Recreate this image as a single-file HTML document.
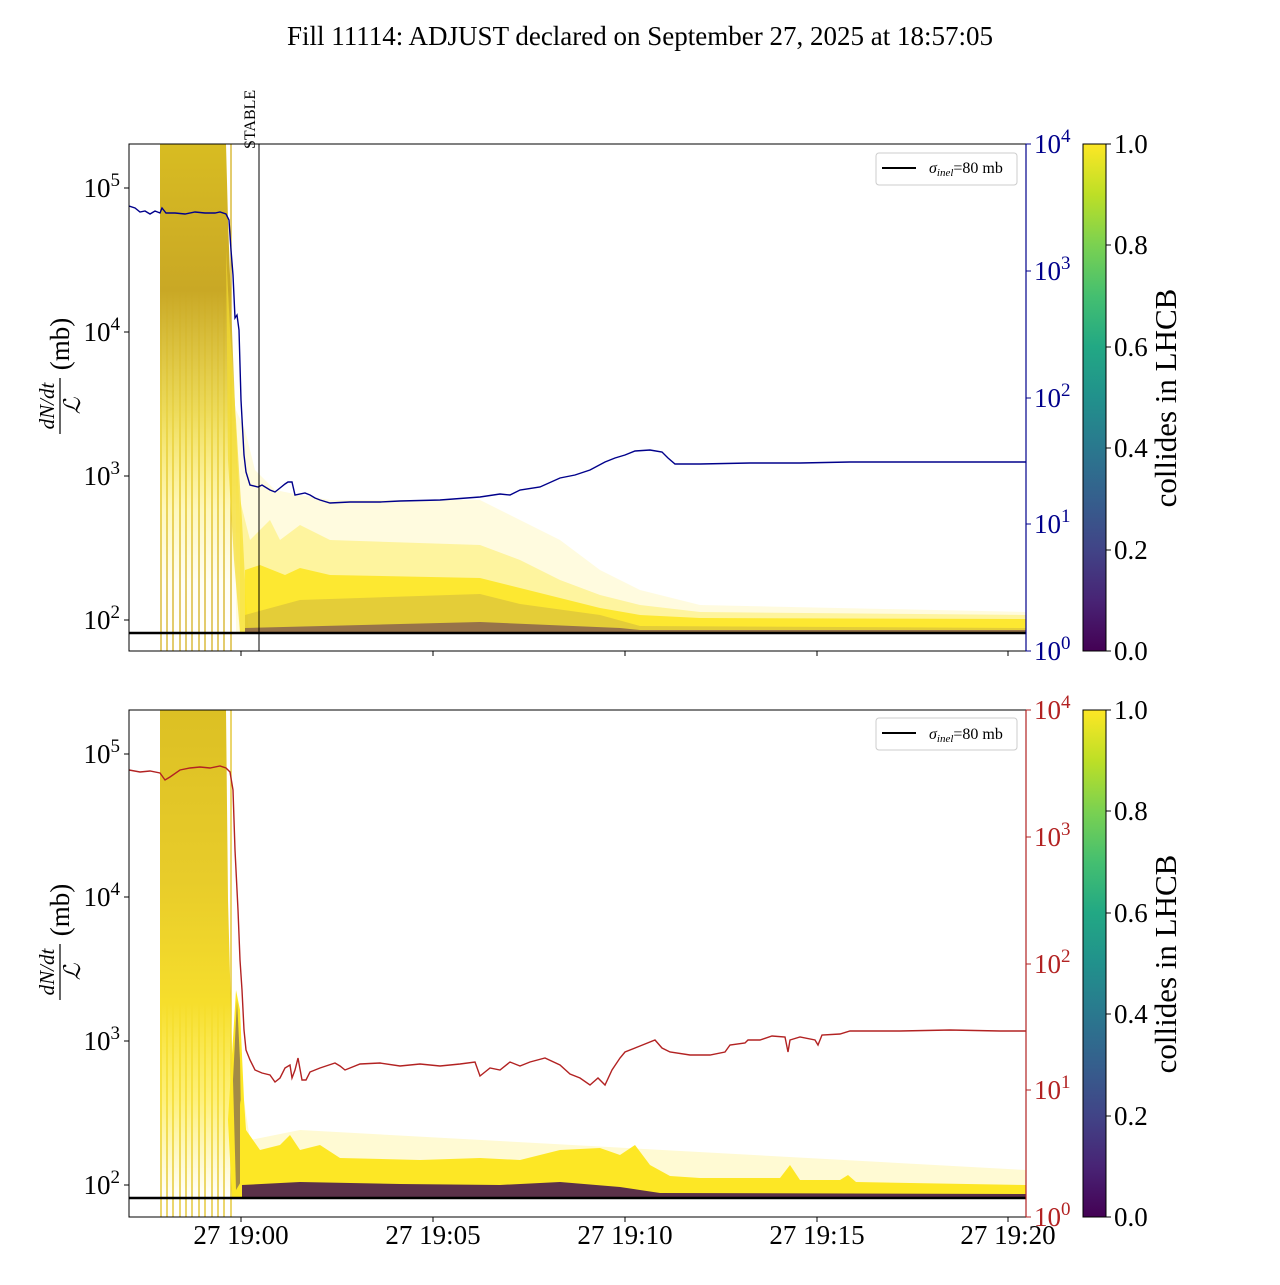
<!DOCTYPE html>
<html><head><meta charset="utf-8"><style>
html,body{margin:0;padding:0;background:#fff;}
svg text{font-family:"Liberation Serif","DejaVu Serif",serif;}
</style></head><body>
<svg width="1280" height="1280" viewBox="0 0 1280 1280" xmlns="http://www.w3.org/2000/svg">
<defs>
<linearGradient id="vir" x1="0" y1="1" x2="0" y2="0">
<stop offset="0" stop-color="#440154"/><stop offset="0.1" stop-color="#482475"/><stop offset="0.2" stop-color="#414487"/><stop offset="0.3" stop-color="#355f8d"/><stop offset="0.4" stop-color="#2a788e"/><stop offset="0.5" stop-color="#21918c"/><stop offset="0.6" stop-color="#22a884"/><stop offset="0.7" stop-color="#44bf70"/><stop offset="0.8" stop-color="#7ad151"/><stop offset="0.9" stop-color="#bddf26"/><stop offset="1" stop-color="#fde725"/>
</linearGradient>
<linearGradient id="early" gradientUnits="userSpaceOnUse" x1="0" y1="144" x2="0" y2="633">
<stop offset="0" stop-color="#d8bc22"/><stop offset="0.3" stop-color="#c9a825"/><stop offset="0.55" stop-color="#ead540" stop-opacity="0.85"/><stop offset="0.75" stop-color="#fde725" stop-opacity="0.3"/><stop offset="0.9" stop-color="#fde725" stop-opacity="0.05"/><stop offset="1" stop-color="#fde725" stop-opacity="0"/>
</linearGradient>
<linearGradient id="early2" gradientUnits="userSpaceOnUse" x1="0" y1="710" x2="0" y2="1198">
<stop offset="0" stop-color="#dcc024"/><stop offset="0.35" stop-color="#e8cc2a"/><stop offset="0.6" stop-color="#f6de2c"/><stop offset="0.8" stop-color="#fde725" stop-opacity="0.6"/><stop offset="1" stop-color="#fde725" stop-opacity="0"/>
</linearGradient>
<clipPath id="c1"><rect x="129" y="144" width="897" height="507"/></clipPath>
<clipPath id="c2"><rect x="129" y="710" width="897" height="507"/></clipPath>
</defs>

<text x="640" y="45" font-size="27" text-anchor="middle">Fill 11114: ADJUST declared on September 27, 2025 at 18:57:05</text>

<!-- ============ TOP PANEL ============ -->
<g clip-path="url(#c1)">
  <g stroke="#d4b020" stroke-width="1.3">
    <line x1="161" y1="144" x2="161" y2="651"/><line x1="167" y1="144" x2="167" y2="651"/><line x1="173" y1="144" x2="173" y2="651"/><line x1="180" y1="144" x2="180" y2="651"/><line x1="186" y1="144" x2="186" y2="651"/><line x1="192" y1="144" x2="192" y2="651"/><line x1="199" y1="144" x2="199" y2="651"/><line x1="205" y1="144" x2="205" y2="651"/><line x1="212" y1="144" x2="212" y2="651"/><line x1="218" y1="144" x2="218" y2="651"/><line x1="224" y1="144" x2="224" y2="651"/><line x1="231" y1="144" x2="231" y2="651"/>
  </g>
  <polygon points="160,144 226,144 228,220 232,330 236,430 241,540 245,610 248,633 160,633" fill="url(#early)"/>
  <polygon points="226,250 230,330 236,420 242,520 246,600 249,633 240,633 234,560 228,460" fill="#f4dc30" opacity="0.7"/>
  <!-- faint envelope -->
  <polygon points="236,410 245,430 255,470 275,490 300,495 330,500 480,500 520,520 560,540 600,570 640,590 700,605 1026,612 1026,633 236,633" fill="#fde725" opacity="0.15"/>
  <polygon points="240,500 250,540 270,520 280,540 300,525 330,540 480,545 520,560 560,580 600,595 640,605 700,612 1026,615 1026,633 240,633" fill="#fde725" opacity="0.35"/>
  <!-- main band -->
  <polygon points="245,570 260,565 285,575 300,568 330,575 480,578 520,588 560,598 600,608 640,615 700,618 1026,619 1026,633 245,633" fill="#fde725" opacity="0.9"/>
  <!-- dark lower lines -->
  <polygon points="245,615 300,600 480,594 520,604 600,615 640,626 1026,628 1026,633 245,633" fill="#9a7a50" opacity="0.25"/>
  <polygon points="245,628 480,622 620,628 640,630 1026,630 1026,633 245,633" fill="#4a1a5a" opacity="0.5"/>
  <polyline fill="none" stroke="#00008b" stroke-width="1.4" points="129,206 135,208 140,212 145,211 150,214 155,211 160,213 162,208 166,213 175,213 185,214 195,212 205,213 215,213 220,212 226,214 229,220 231,250 233,275 235,318 237,315 239,330 241,400 244,455 246,472 250,485 258,487 262,485 270,490 275,492 280,488 285,484 288,482 292,482 295,495 305,493 310,495 315,498 320,500 330,503 350,502 380,502 400,501 440,500 480,497 500,494 510,495 520,490 540,487 560,478 575,475 590,470 605,462 615,458 625,455 635,451 650,450 662,452 668,458 675,464 700,464 750,463 800,463 850,462 900,462 950,462 1026,462"/>
  <line x1="129" y1="633" x2="1026" y2="633" stroke="#000" stroke-width="2.5"/>
  <line x1="259" y1="144" x2="259" y2="651" stroke="#000" stroke-width="1"/>
</g>
<rect x="129" y="144" width="897" height="507" fill="none" stroke="#000" stroke-width="1"/>
<line x1="1026" y1="144" x2="1026" y2="651" stroke="#00008b" stroke-width="1.2"/>
<text x="0" y="0" font-size="16" transform="translate(255,149) rotate(-90)">STABLE</text>
<g stroke="#000"><line x1="124" y1="188" x2="129" y2="188"/><line x1="124" y1="332" x2="129" y2="332"/><line x1="124" y1="476" x2="129" y2="476"/><line x1="124" y1="620" x2="129" y2="620"/></g>
<g font-size="27" text-anchor="end"><text x="120" y="197">10<tspan dy="-11" font-size="19">5</tspan></text><text x="120" y="341">10<tspan dy="-11" font-size="19">4</tspan></text><text x="120" y="485">10<tspan dy="-11" font-size="19">3</tspan></text><text x="120" y="629">10<tspan dy="-11" font-size="19">2</tspan></text></g>
<g font-size="27" transform="translate(60,398) rotate(-90)" text-anchor="middle"><text x="-8" y="-6" font-size="21" font-style="italic">dN/dt</text><line x1="-36" y1="0" x2="20" y2="0" stroke="#000" stroke-width="1.2"/><text x="-8" y="20" font-size="23" font-style="italic">ℒ</text><text x="54" y="9">(mb)</text></g>
<g stroke="#00008b"><line x1="1026" y1="144" x2="1031" y2="144"/><line x1="1026" y1="271" x2="1031" y2="271"/><line x1="1026" y1="398" x2="1031" y2="398"/><line x1="1026" y1="524" x2="1031" y2="524"/><line x1="1026" y1="651" x2="1031" y2="651"/></g>
<g font-size="27" fill="#00008b"><text x="1034" y="153">10<tspan dy="-11" font-size="19">4</tspan></text><text x="1034" y="280">10<tspan dy="-11" font-size="19">3</tspan></text><text x="1034" y="407">10<tspan dy="-11" font-size="19">2</tspan></text><text x="1034" y="533">10<tspan dy="-11" font-size="19">1</tspan></text><text x="1034" y="660">10<tspan dy="-11" font-size="19">0</tspan></text></g>
<g stroke="#000"><line x1="241" y1="651" x2="241" y2="656"/><line x1="433" y1="651" x2="433" y2="656"/><line x1="625" y1="651" x2="625" y2="656"/><line x1="817" y1="651" x2="817" y2="656"/><line x1="1008" y1="651" x2="1008" y2="656"/></g>
<rect x="876" y="153" width="141" height="32" rx="3" fill="#fff" stroke="#ccc"/>
<line x1="882" y1="168" x2="916" y2="168" stroke="#000" stroke-width="2"/>
<text x="929" y="173" font-size="16"><tspan font-style="italic">σ</tspan><tspan font-style="italic" font-size="11" dy="3">inel</tspan><tspan dy="-3">=80 mb</tspan></text>
<rect x="1083" y="144" width="23" height="507" fill="url(#vir)" stroke="#000"/>
<g stroke="#000"><line x1="1106" y1="144" x2="1111" y2="144"/><line x1="1106" y1="245" x2="1111" y2="245"/><line x1="1106" y1="347" x2="1111" y2="347"/><line x1="1106" y1="448" x2="1111" y2="448"/><line x1="1106" y1="550" x2="1111" y2="550"/><line x1="1106" y1="651" x2="1111" y2="651"/></g>
<g font-size="27"><text x="1114" y="153">1.0</text><text x="1114" y="254">0.8</text><text x="1114" y="356">0.6</text><text x="1114" y="457">0.4</text><text x="1114" y="559">0.2</text><text x="1114" y="660">0.0</text></g>
<text font-size="31" transform="translate(1176,398) rotate(-90)" text-anchor="middle">collides in LHCB</text>

<!-- ============ BOTTOM PANEL ============ -->
<g clip-path="url(#c2)">
  <g stroke="#e0c020" stroke-width="1.3">
    <line x1="161" y1="710" x2="161" y2="1217"/><line x1="167" y1="710" x2="167" y2="1217"/><line x1="173" y1="710" x2="173" y2="1217"/><line x1="180" y1="710" x2="180" y2="1217"/><line x1="186" y1="710" x2="186" y2="1217"/><line x1="192" y1="710" x2="192" y2="1217"/><line x1="199" y1="710" x2="199" y2="1217"/><line x1="205" y1="710" x2="205" y2="1217"/><line x1="212" y1="710" x2="212" y2="1217"/><line x1="218" y1="710" x2="218" y2="1217"/><line x1="224" y1="710" x2="224" y2="1217"/><line x1="231" y1="710" x2="231" y2="1217"/>
  </g>
  <polygon points="160,710 226,710 228,900 232,1050 236,1150 240,1198 160,1198" fill="url(#early2)"/>
  <polygon points="228,1120 236,990 240,1010 244,1100 248,1160 246,1198 232,1198" fill="#fde725"/>
  <polygon points="233,1080 237,1000 240,1060 242,1180 236,1190" fill="#5a4060" opacity="0.55"/>
  <polygon points="244,1100 250,1140 300,1130 1026,1170 1026,1198 244,1198" fill="#fde725" opacity="0.2"/>
  <polygon points="240,1100 246,1130 260,1150 280,1145 290,1135 300,1150 320,1145 340,1158 420,1160 480,1158 520,1160 560,1150 600,1148 620,1155 635,1145 650,1165 670,1176 700,1178 780,1178 790,1165 800,1180 840,1180 848,1175 856,1182 1026,1185 1026,1198 240,1198" fill="#fde725"/>
  <polygon points="242,1185 300,1182 400,1184 500,1185 560,1182 620,1187 660,1193 1026,1194 1026,1198 242,1198" fill="#3e1050" opacity="0.85"/>
  <polyline fill="none" stroke="#b22222" stroke-width="1.4" points="129,770 140,772 150,771 160,773 165,780 170,777 180,770 190,768 200,767 210,768 220,766 226,768 230,772 233,790 235,850 238,910 240,960 242,990 244,1030 246,1050 250,1060 255,1070 262,1073 270,1075 275,1082 280,1078 285,1068 290,1065 292,1078 295,1070 298,1058 302,1080 306,1080 310,1072 320,1068 335,1063 340,1066 345,1070 360,1064 380,1063 400,1066 420,1064 440,1066 460,1064 475,1062 480,1076 490,1068 500,1070 510,1062 520,1066 530,1062 545,1058 560,1065 570,1074 580,1078 590,1085 598,1078 605,1085 612,1070 620,1058 625,1052 640,1046 655,1040 662,1048 670,1052 690,1055 710,1055 725,1052 730,1045 745,1043 748,1040 760,1040 772,1036 785,1037 788,1052 790,1040 800,1037 815,1040 818,1045 822,1035 840,1034 850,1031 900,1031 950,1030 1000,1031 1026,1031"/>
  <line x1="129" y1="1198" x2="1026" y2="1198" stroke="#000" stroke-width="2.5"/>
</g>
<rect x="129" y="710" width="897" height="507" fill="none" stroke="#000" stroke-width="1"/>
<line x1="1026" y1="710" x2="1026" y2="1217" stroke="#b22222" stroke-width="1.2"/>
<g stroke="#000"><line x1="124" y1="754" x2="129" y2="754"/><line x1="124" y1="897" x2="129" y2="897"/><line x1="124" y1="1041" x2="129" y2="1041"/><line x1="124" y1="1185" x2="129" y2="1185"/></g>
<g font-size="27" text-anchor="end"><text x="120" y="763">10<tspan dy="-11" font-size="19">5</tspan></text><text x="120" y="906">10<tspan dy="-11" font-size="19">4</tspan></text><text x="120" y="1050">10<tspan dy="-11" font-size="19">3</tspan></text><text x="120" y="1194">10<tspan dy="-11" font-size="19">2</tspan></text></g>
<g font-size="27" transform="translate(60,964) rotate(-90)" text-anchor="middle"><text x="-8" y="-6" font-size="21" font-style="italic">dN/dt</text><line x1="-36" y1="0" x2="20" y2="0" stroke="#000" stroke-width="1.2"/><text x="-8" y="20" font-size="23" font-style="italic">ℒ</text><text x="54" y="9">(mb)</text></g>
<g stroke="#b22222"><line x1="1026" y1="710" x2="1031" y2="710"/><line x1="1026" y1="837" x2="1031" y2="837"/><line x1="1026" y1="964" x2="1031" y2="964"/><line x1="1026" y1="1090" x2="1031" y2="1090"/><line x1="1026" y1="1217" x2="1031" y2="1217"/></g>
<g font-size="27" fill="#b22222"><text x="1034" y="719">10<tspan dy="-11" font-size="19">4</tspan></text><text x="1034" y="846">10<tspan dy="-11" font-size="19">3</tspan></text><text x="1034" y="973">10<tspan dy="-11" font-size="19">2</tspan></text><text x="1034" y="1099">10<tspan dy="-11" font-size="19">1</tspan></text><text x="1034" y="1226">10<tspan dy="-11" font-size="19">0</tspan></text></g>
<g stroke="#000"><line x1="241" y1="1217" x2="241" y2="1222"/><line x1="433" y1="1217" x2="433" y2="1222"/><line x1="625" y1="1217" x2="625" y2="1222"/><line x1="817" y1="1217" x2="817" y2="1222"/><line x1="1008" y1="1217" x2="1008" y2="1222"/></g>
<g font-size="27" text-anchor="middle"><text x="241" y="1244">27 19:00</text><text x="433" y="1244">27 19:05</text><text x="625" y="1244">27 19:10</text><text x="817" y="1244">27 19:15</text><text x="1008" y="1244">27 19:20</text></g>
<rect x="876" y="718" width="141" height="32" rx="3" fill="#fff" stroke="#ccc"/>
<line x1="882" y1="733" x2="916" y2="733" stroke="#000" stroke-width="2"/>
<text x="929" y="739" font-size="16"><tspan font-style="italic">σ</tspan><tspan font-style="italic" font-size="11" dy="3">inel</tspan><tspan dy="-3">=80 mb</tspan></text>
<rect x="1083" y="710" width="23" height="507" fill="url(#vir)" stroke="#000"/>
<g stroke="#000"><line x1="1106" y1="710" x2="1111" y2="710"/><line x1="1106" y1="811" x2="1111" y2="811"/><line x1="1106" y1="913" x2="1111" y2="913"/><line x1="1106" y1="1014" x2="1111" y2="1014"/><line x1="1106" y1="1116" x2="1111" y2="1116"/><line x1="1106" y1="1217" x2="1111" y2="1217"/></g>
<g font-size="27"><text x="1114" y="719">1.0</text><text x="1114" y="820">0.8</text><text x="1114" y="922">0.6</text><text x="1114" y="1023">0.4</text><text x="1114" y="1125">0.2</text><text x="1114" y="1226">0.0</text></g>
<text font-size="31" transform="translate(1176,964) rotate(-90)" text-anchor="middle">collides in LHCB</text>
</svg>
</body></html>
